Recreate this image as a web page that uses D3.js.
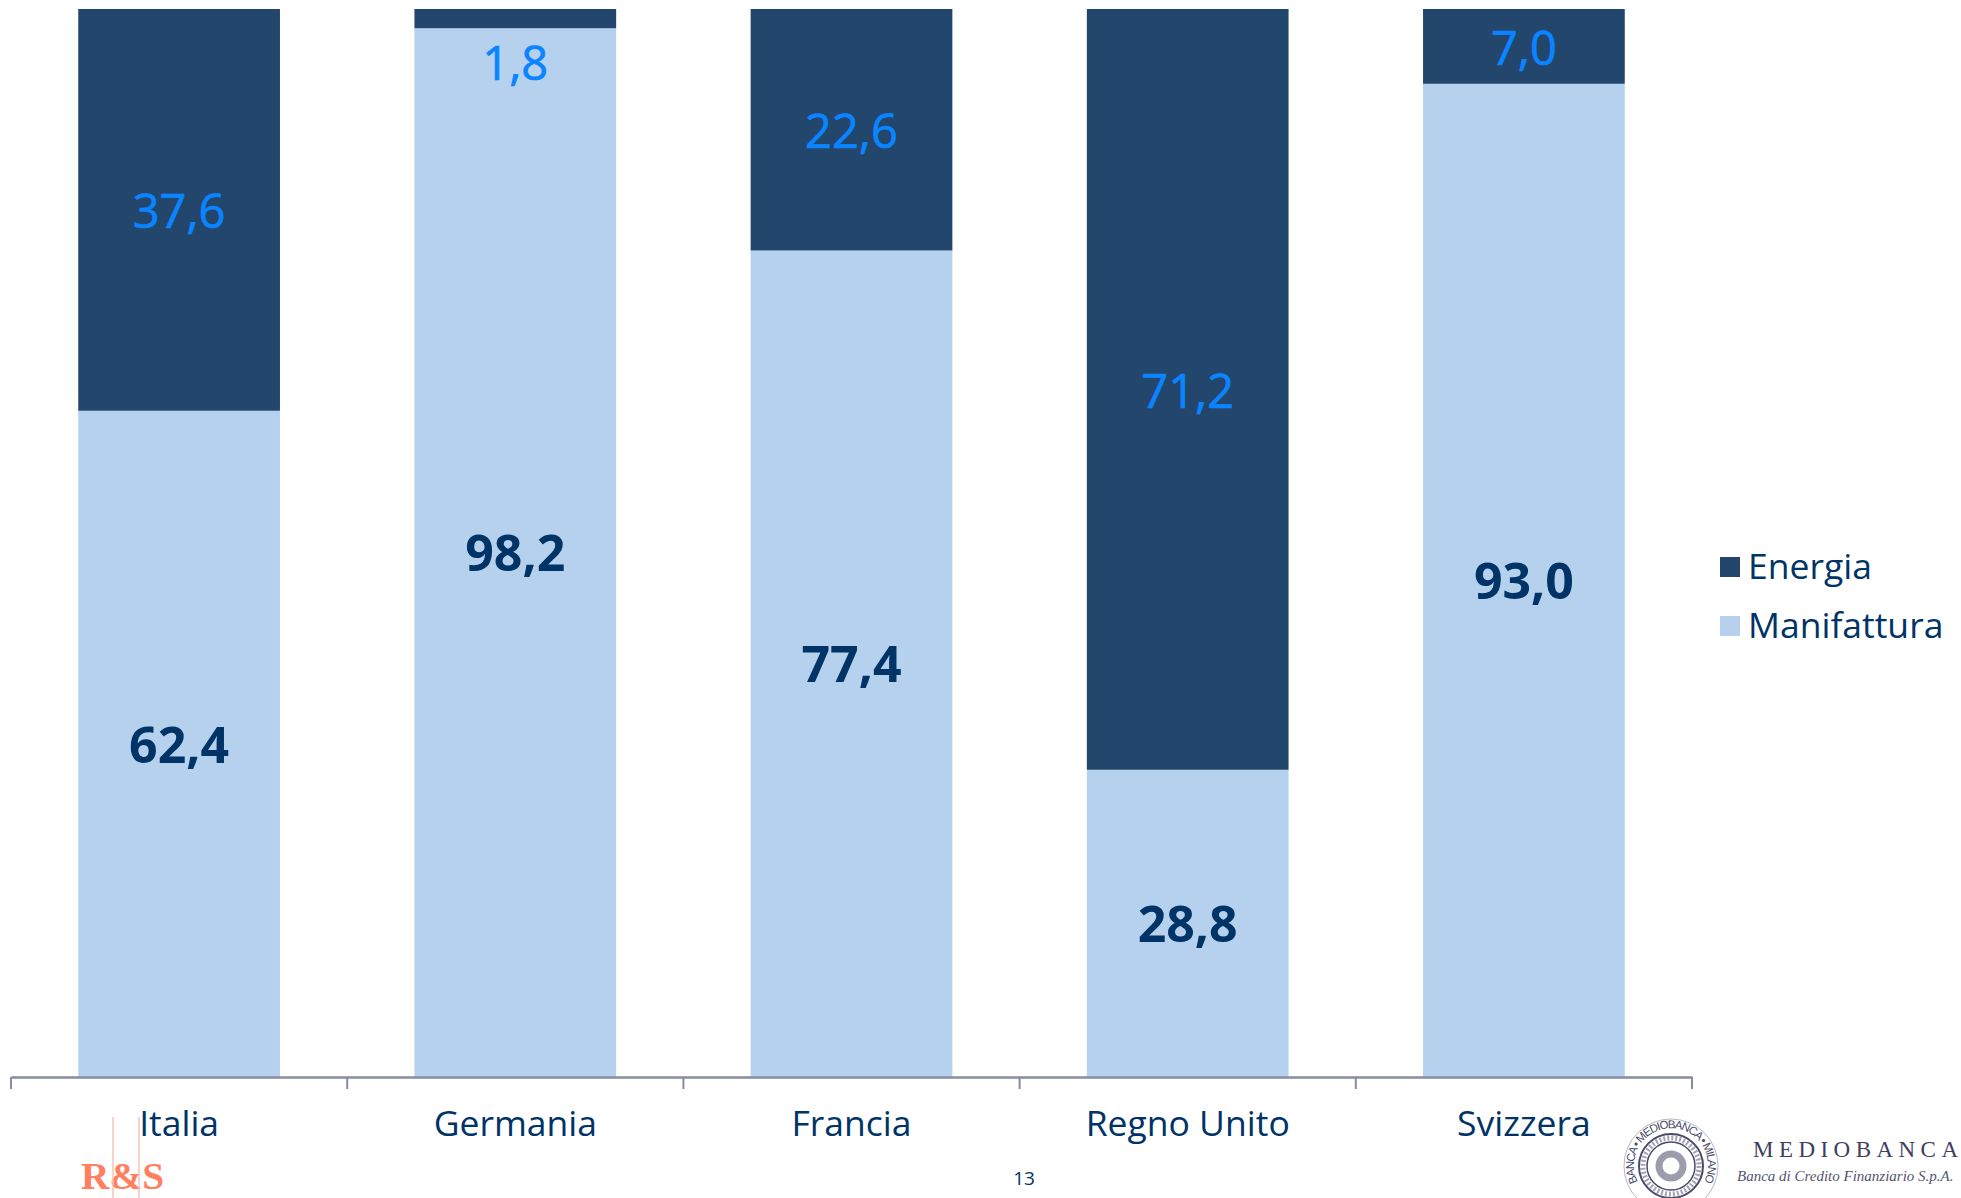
<!DOCTYPE html>
<html><head><meta charset="utf-8">
<script src="https://cdn.jsdelivr.net/npm/d3@7/dist/d3.min.js"></script>
<style>html,body{margin:0;padding:0;background:#fff;overflow:hidden}svg{display:block}text{font-family:"Open Sans","Noto Sans",sans-serif}</style>
</head><body><svg id="c" width="1961" height="1198"></svg>
<script>
const categories=["Italia","Germania","Francia","Regno Unito","Svizzera"];
const manifattura=[62.4,98.2,77.4,28.8,93.0];
const energia=[37.6,1.8,22.6,71.2,7.0];
const seriesNames=["Energia","Manifattura"];
const fmt=v=>v.toFixed(1).replace(".",",");
const NAVY="#003366",DARK="#23466C",LIGHT="#B5D1EE",BRIGHT="#0A84FF",AXIS="#868CA3";
const svg=d3.select("#c");
const x=d3.scaleBand().domain(categories).range([11,1692]).paddingInner(0.4).paddingOuter(0.2);
const y=d3.scaleLinear().domain([0,100]).range([1077.5,9]);
const rows=categories.map((c,i)=>({c,m:manifattura[i],e:energia[i]}));
svg.append("g").selectAll("rect").data(rows).join("rect")
 .attr("x",d=>x(d.c)).attr("width",x.bandwidth())
 .attr("y",d=>y(d.m)).attr("height",d=>y(0)-y(d.m)).attr("fill",LIGHT);
svg.append("g").selectAll("rect").data(rows).join("rect")
 .attr("x",d=>x(d.c)).attr("width",x.bandwidth())
 .attr("y",d=>y(d.m+d.e)).attr("height",d=>y(d.m)-y(d.m+d.e)).attr("fill",DARK);
svg.append("g").selectAll("text").data(rows).join("text")
 .attr("x",d=>x(d.c)+x.bandwidth()/2).attr("y",d=>y(d.m/2)+5)
 .attr("text-anchor","middle").attr("dominant-baseline","middle")
 .attr("font-size",50).attr("font-weight",700).attr("fill",NAVY).text(d=>fmt(d.m));
svg.append("g").selectAll("text").data(rows).join("text")
 .attr("x",d=>x(d.c)+x.bandwidth()/2)
 .attr("y",d=>(d.e<3?y(d.m)+39:y(d.m+d.e/2)+6))
 .attr("text-anchor","middle").attr("dominant-baseline","middle")
 .attr("font-size",47).attr("stroke",BRIGHT).attr("stroke-width",0.7).attr("fill",BRIGHT).text(d=>fmt(d.e));
const ax=svg.append("g").attr("transform","translate(0,1077)");
ax.call(d3.axisBottom(x).tickSize(0).tickPadding(34));
ax.select(".domain").attr("stroke",AXIS).attr("stroke-width",2.5);
ax.selectAll(".tick text").attr("font-size",35.5).attr("fill",NAVY).style("font-family",'"Open Sans","Noto Sans",sans-serif');
ax.selectAll(".sep").data(d3.range(categories.length+1)).join("line").attr("class","sep")
 .attr("x1",i=>11+i*x.step()).attr("x2",i=>11+i*x.step()).attr("y1",0).attr("y2",12)
 .attr("stroke",AXIS).attr("stroke-width",2);
const lg=svg.append("g").selectAll("g").data(seriesNames).join("g")
 .attr("transform",(d,i)=>`translate(1720,${557+i*59})`);
lg.append("rect").attr("width",20).attr("height",20).attr("fill",(d,i)=>i?LIGHT:DARK);
lg.append("text").attr("x",28).attr("y",12).attr("dominant-baseline","middle")
 .attr("font-size",35.5).attr("fill",NAVY).text(d=>d);
svg.append("text").attr("x",1024).attr("y",1185).attr("text-anchor","middle").attr("font-size",19).attr("fill",NAVY).text("13");
svg.append("text").attr("x",81).attr("y",1189).style("font-family","Liberation Serif")
 .attr("font-size",38).attr("font-weight",700).attr("fill","#FF7F5F").attr("textLength",83).attr("lengthAdjust","spacingAndGlyphs").text("R&S");
[113,139].forEach(v=>svg.append("line").attr("x1",v).attr("x2",v).attr("y1",1117).attr("y2",1198).attr("stroke","#F9C4B6").attr("stroke-width",1.5));
const seal=svg.append("g").attr("transform","translate(1671,1166)").attr("fill","none").attr("stroke","#4A4A6A");
seal.append("circle").attr("r",32).attr("stroke-width",2);
seal.append("circle").attr("r",24).attr("stroke-width",1.5);
seal.append("circle").attr("r",12).attr("stroke-width",7).attr("opacity",.55);
seal.append("circle").attr("r",28).attr("stroke-width",5).attr("stroke-dasharray","2 2").attr("opacity",.5);
seal.append("circle").attr("r",47).attr("stroke-width",1).attr("opacity",.4);
seal.append("path").attr("id","arc").attr("d","M-33,16 A37,37 0 1 1 33,16").attr("stroke","none");
seal.append("text").attr("fill","#4A4A6A").attr("stroke","none").attr("font-size",11.5).style("font-family","Liberation Sans")
 .append("textPath").attr("href","#arc").attr("startOffset","50%").attr("text-anchor","middle").attr("textLength",150).text("BANCA • MEDIOBANCA • MILANO");
svg.append("text").attr("x",1753).attr("y",1157).style("font-family","Liberation Serif").attr("font-size",23).attr("textLength",205).attr("fill","#3E3E5E").text("MEDIOBANCA");
svg.append("text").attr("x",1737).attr("y",1181).style("font-family","Liberation Serif").attr("font-style","italic").attr("font-size",15).attr("fill","#55556F").text("Banca di Credito Finanziario S.p.A.");
</script></body></html>
